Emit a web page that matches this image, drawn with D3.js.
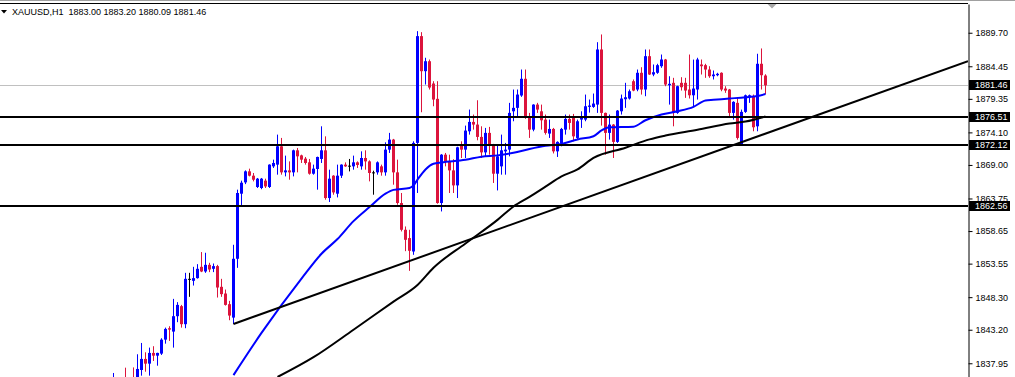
<!DOCTYPE html>
<html>
<head>
<meta charset="utf-8">
<script src="https://cdn.jsdelivr.net/npm/d3@7"></script>
<style>
  body { margin: 0; background: #fff; overflow: hidden; }
  text { font-family: "Liberation Sans", Arial, sans-serif; font-size: 9px; }
</style>
</head>
<body>
<div id="chart-area"></div>
<script>
const symbol = "XAUUSD,H1";

// hourly bars, oldest first (first few sit below the visible window)
const opens = [
  1833.50, 1834.00, 1833.00, 1835.50, 1834.20, 1835.60, 1835.00, 1836.90, 1838.63, 1837.89,
  1839.57, 1839.14, 1839.46, 1841.65, 1843.44, 1842.91, 1845.32, 1846.89, 1844.07, 1851.17,
  1850.86, 1851.28, 1853.05, 1852.32, 1853.36, 1852.74, 1853.16, 1849.92, 1848.87, 1847.20,
  1845.10, 1854.31, 1864.50, 1866.27, 1868.00, 1867.32, 1865.55, 1865.39, 1866.54, 1865.55,
  1868.78, 1869.05, 1871.92, 1867.84, 1868.15, 1867.84, 1871.29, 1870.50, 1869.99, 1869.41,
  1867.63, 1868.37, 1869.94, 1871.29, 1863.82, 1867.32, 1864.50, 1867.32, 1869.05, 1868.89,
  1868.78, 1869.41, 1868.78, 1870.09, 1869.56, 1867.84, 1867.84, 1868.78, 1867.84, 1871.40,
  1872.97, 1867.84, 1863.04, 1858.85, 1857.55, 1855.45, 1872.45, 1889.17, 1883.68, 1885.24,
  1881.75, 1879.35, 1863.04, 1870.61, 1869.56, 1868.15, 1865.80, 1872.18, 1871.40, 1874.27,
  1875.74, 1875.32, 1873.39, 1870.97, 1874.02, 1872.18, 1867.63, 1868.78, 1871.13, 1871.40,
  1877.40, 1877.94, 1879.87, 1882.49, 1876.62, 1874.53, 1878.45, 1877.40, 1876.10, 1873.91,
  1874.64, 1871.13, 1872.34, 1874.53, 1876.21, 1876.62, 1873.23, 1876.10, 1876.10, 1878.09,
  1878.09, 1878.45, 1887.08, 1877.15, 1874.02, 1875.32, 1872.61, 1877.40, 1879.29, 1879.40,
  1882.11, 1880.81, 1883.43, 1880.81, 1886.03, 1883.16, 1883.43, 1884.46, 1885.51, 1881.48,
  1881.86, 1877.15, 1881.86, 1881.86, 1880.81, 1879.91, 1880.81, 1884.73, 1884.62, 1883.94,
  1882.89, 1883.05, 1883.43, 1880.96, 1880.81, 1877.15, 1878.72, 1872.18, 1877.31, 1879.60,
  1879.76, 1875.05, 1884.84, 1883.00
];
const highs = [
  1836.43, 1835.30, 1835.20, 1837.26, 1835.50, 1837.30, 1839.36, 1841.13, 1839.67, 1840.40,
  1840.62, 1839.60, 1841.87, 1843.53, 1843.75, 1848.03, 1847.52, 1847.09, 1852.11, 1852.11,
  1853.05, 1853.47, 1855.36, 1855.25, 1853.68, 1853.57, 1853.36, 1851.17, 1849.49, 1847.72,
  1856.50, 1865.13, 1866.54, 1868.15, 1868.42, 1867.74, 1866.96, 1866.96, 1866.85, 1869.10,
  1869.83, 1873.75, 1873.23, 1870.46, 1869.56, 1871.40, 1871.66, 1870.61, 1870.25, 1869.94,
  1869.05, 1870.30, 1875.05, 1873.48, 1868.26, 1867.40, 1869.05, 1869.10, 1869.40, 1869.94,
  1870.46, 1869.56, 1871.13, 1871.29, 1869.72, 1868.10, 1869.56, 1869.05, 1872.54, 1874.02,
  1873.08, 1869.83, 1864.61, 1859.37, 1858.85, 1872.70, 1889.95, 1889.79, 1885.78, 1885.51,
  1882.11, 1882.11, 1870.70, 1870.88, 1870.61, 1869.90, 1871.85, 1872.70, 1875.16, 1877.67,
  1876.89, 1879.13, 1875.05, 1874.80, 1874.96, 1872.30, 1872.18, 1873.75, 1872.45, 1878.72,
  1880.81, 1880.81, 1883.94, 1883.94, 1877.15, 1878.50, 1878.72, 1878.45, 1876.89, 1876.10,
  1874.80, 1872.70, 1874.80, 1876.89, 1876.89, 1876.99, 1876.10, 1877.40, 1880.02, 1879.24,
  1880.18, 1888.22, 1889.43, 1877.20, 1876.89, 1875.40, 1877.60, 1880.02, 1881.86, 1880.81,
  1882.38, 1883.94, 1884.30, 1887.08, 1887.08, 1884.73, 1884.84, 1886.29, 1885.60, 1882.89,
  1882.64, 1881.40, 1882.74, 1882.64, 1886.29, 1885.50, 1885.78, 1885.51, 1884.84, 1884.46,
  1883.79, 1883.43, 1883.50, 1881.33, 1880.90, 1878.97, 1879.50, 1877.67, 1880.02, 1880.02,
  1880.02, 1886.41, 1887.24, 1883.20
];
const lows = [
  1832.80, 1832.50, 1832.00, 1833.50, 1833.00, 1833.80, 1834.00, 1836.01, 1836.63, 1836.01,
  1838.31, 1837.57, 1839.25, 1841.02, 1841.45, 1840.40, 1844.38, 1843.53, 1843.44, 1848.35,
  1850.12, 1851.20, 1852.22, 1852.11, 1852.22, 1852.22, 1848.24, 1848.35, 1846.98, 1844.69,
  1844.10, 1852.89, 1862.46, 1866.00, 1867.21, 1866.43, 1865.39, 1865.20, 1865.39, 1865.39,
  1868.53, 1867.48, 1867.48, 1867.21, 1866.69, 1867.21, 1867.84, 1869.31, 1869.05, 1867.48,
  1867.48, 1865.13, 1869.31, 1863.56, 1863.20, 1864.34, 1863.92, 1866.96, 1868.70, 1867.99,
  1868.26, 1868.53, 1868.26, 1868.26, 1866.43, 1864.34, 1867.48, 1867.32, 1867.32, 1870.88,
  1865.91, 1862.77, 1858.59, 1855.50, 1852.42, 1854.93, 1864.61, 1877.25, 1881.59, 1880.81,
  1878.19, 1862.93, 1861.72, 1868.78, 1864.61, 1864.61, 1863.82, 1870.09, 1870.09, 1873.75,
  1874.53, 1872.86, 1870.09, 1870.35, 1870.61, 1866.18, 1865.01, 1867.48, 1867.48, 1870.35,
  1875.84, 1876.62, 1879.66, 1876.21, 1873.23, 1874.27, 1877.15, 1874.53, 1873.75, 1873.23,
  1870.80, 1870.25, 1871.92, 1873.75, 1874.53, 1872.70, 1872.97, 1874.80, 1875.84, 1877.20,
  1877.94, 1877.15, 1875.16, 1870.61, 1872.97, 1870.09, 1872.45, 1876.89, 1877.94, 1879.24,
  1880.54, 1880.54, 1880.02, 1879.76, 1883.10, 1882.89, 1883.27, 1884.21, 1881.33, 1878.45,
  1875.05, 1877.00, 1880.65, 1879.50, 1879.40, 1878.20, 1879.24, 1883.16, 1882.64, 1882.64,
  1882.38, 1882.89, 1880.54, 1880.29, 1876.62, 1876.10, 1872.97, 1872.10, 1877.15, 1878.72,
  1874.27, 1874.27, 1880.81, 1880.09
];
const closes = [
  1835.00, 1833.00, 1834.50, 1834.20, 1835.00, 1834.50, 1837.06, 1838.63, 1837.89, 1839.57,
  1839.14, 1839.57, 1841.65, 1843.33, 1843.22, 1845.32, 1847.09, 1844.07, 1851.17, 1851.17,
  1851.28, 1852.74, 1852.32, 1853.36, 1852.63, 1853.16, 1849.81, 1848.77, 1847.09, 1845.42,
  1854.31, 1864.61, 1866.22, 1868.00, 1867.32, 1866.69, 1866.85, 1866.85, 1865.64, 1869.05,
  1869.31, 1871.92, 1867.84, 1868.15, 1867.84, 1871.29, 1870.35, 1869.83, 1869.31, 1867.63,
  1868.42, 1870.25, 1871.29, 1863.82, 1866.85, 1864.70, 1867.32, 1869.05, 1868.78, 1868.89,
  1869.41, 1869.00, 1870.09, 1869.56, 1867.74, 1867.84, 1869.41, 1867.84, 1871.40, 1872.97,
  1867.84, 1863.04, 1858.85, 1857.28, 1855.56, 1872.45, 1889.17, 1883.68, 1885.24, 1881.12,
  1879.24, 1863.04, 1870.61, 1869.56, 1868.15, 1865.80, 1871.76, 1871.40, 1874.38, 1875.74,
  1875.32, 1873.39, 1870.97, 1874.02, 1872.03, 1867.63, 1870.35, 1871.29, 1871.40, 1877.15,
  1877.94, 1880.02, 1882.49, 1876.62, 1874.53, 1878.45, 1877.67, 1875.99, 1874.02, 1874.64,
  1871.13, 1872.61, 1874.64, 1876.21, 1875.58, 1873.48, 1875.84, 1876.62, 1878.19, 1878.30,
  1878.61, 1887.08, 1877.15, 1874.02, 1875.32, 1872.61, 1877.51, 1879.40, 1879.60, 1880.54,
  1880.65, 1883.43, 1880.81, 1886.03, 1883.16, 1883.52, 1884.62, 1885.51, 1881.59, 1881.70,
  1877.15, 1881.33, 1881.17, 1880.65, 1879.91, 1880.96, 1885.51, 1884.46, 1883.94, 1882.89,
  1883.16, 1883.27, 1880.81, 1880.65, 1877.15, 1878.88, 1873.23, 1877.31, 1879.91, 1879.91,
  1874.90, 1884.84, 1883.05, 1881.46
];

const priceTicks = [1889.70, 1884.45, 1879.35, 1874.10, 1869.00, 1863.75, 1858.65, 1853.55, 1848.30, 1843.20, 1837.95];
const levels = [1876.51, 1872.12, 1862.56];
const bidPrice = 1881.46;

// moving averages at some bars
const maFastBars = [30, 37, 47, 52, 56, 60, 64, 68, 70, 74, 75, 76, 78, 80, 82, 88, 92, 96, 100, 104, 108, 112, 116, 120, 122, 124, 130, 133, 137, 141, 145, 148, 150, 154, 158, 161, 163];
const maFastValues = [1836.1, 1842.7, 1851.2, 1855.1, 1857.4, 1860.2, 1862.4, 1864.5, 1865.1, 1865.4, 1865.8, 1866.7, 1868.3, 1869.2, 1869.4, 1869.8, 1870.3, 1870.5, 1870.9, 1871.5, 1872.0, 1872.3, 1873.0, 1873.5, 1874.4, 1874.9, 1875.0, 1876.0, 1876.9, 1877.4, 1878.1, 1879.1, 1879.2, 1879.4, 1879.6, 1879.8, 1880.1];
const maSlowBars = [41, 50, 60, 70, 76, 80, 88, 96, 100, 104, 108, 112, 116, 120, 128, 134, 138, 146, 154, 158, 163];
const maSlowValues = [1835.8, 1838.9, 1843.2, 1847.6, 1850.2, 1852.9, 1856.7, 1860.4, 1862.5, 1864.0, 1865.6, 1867.2, 1868.3, 1870.1, 1871.7, 1873.0, 1873.6, 1874.5, 1875.5, 1875.8, 1876.6];

// trend line anchors (bar, price)
const trendBars = [30, 157];
const trendPrices = [1844.1, 1872.56];

const drawChart = () => {
  const chartSize = { width: 1015, height: 377 };
  const plot = { left: 0, right: 968, top: 4, bottom: 377 };

  const x = d3.scaleLinear().domain([0, opens.length - 1]).range([113.5, 765.5]);
  const y = d3.scaleLinear().domain([1835.8, 1894.2]).range([plot.bottom, plot.top]);

  const bull = "#0000ff";
  const bear = "#dc143c";

  const svg = d3.select("#chart-area")
    .append("svg")
    .attr("width", chartSize.width)
    .attr("height", chartSize.height)
    .style("display", "block");

  svg.append("rect").attr("width", chartSize.width).attr("height", chartSize.height).attr("fill", "#fff");

  svg.append("clipPath").attr("id", "plot-clip")
    .append("rect")
    .attr("x", plot.left).attr("y", plot.top)
    .attr("width", plot.right - plot.left).attr("height", plot.bottom - plot.top);

  const g = svg.append("g").attr("clip-path", "url(#plot-clip)");

  // bid line
  g.append("line")
    .attr("x1", plot.left).attr("x2", plot.right)
    .attr("y1", Math.round(y(bidPrice)) + 0.5).attr("y2", Math.round(y(bidPrice)) + 0.5)
    .attr("stroke", "#c0c0c0").attr("stroke-width", 1);

  const bars = d3.range(opens.length).map(i => ({
    i, o: opens[i], h: highs[i], l: lows[i], c: closes[i]
  }));
  const colorOf = b => (b.c > b.o ? bull : b.c < b.o ? bear : "#000");

  const candles = g.append("g").attr("class", "candles");
  candles.selectAll("line").data(bars).enter().append("line")
    .attr("x1", b => x(b.i)).attr("x2", b => x(b.i))
    .attr("y1", b => y(b.h)).attr("y2", b => y(b.l))
    .attr("stroke", colorOf).attr("stroke-width", 1);

  candles.selectAll("rect").data(bars).enter().append("rect")
    .attr("x", b => x(b.i) - 1.5)
    .attr("width", 3)
    .attr("y", b => y(Math.max(b.o, b.c)))
    .attr("height", b => Math.max(1, Math.abs(y(b.o) - y(b.c))))
    .attr("fill", colorOf);

  // moving averages
  const maLine = d3.line().x(d => x(d[0])).y(d => y(d[1])).curve(d3.curveMonotoneX);
  g.append("path")
    .datum(d3.zip(maSlowBars, maSlowValues))
    .attr("d", maLine).attr("fill", "none").attr("stroke", "#000").attr("stroke-width", 2);
  g.append("path")
    .datum(d3.zip(maFastBars, maFastValues))
    .attr("d", maLine).attr("fill", "none").attr("stroke", bull).attr("stroke-width", 2);

  // horizontal levels
  g.selectAll(".level").data(levels).enter().append("line")
    .attr("class", "level")
    .attr("x1", plot.left).attr("x2", plot.right)
    .attr("y1", d => y(d)).attr("y2", d => y(d))
    .attr("stroke", "#000").attr("stroke-width", 2);

  // trend line as a ray to the right edge
  const slope = (trendPrices[1] - trendPrices[0]) / (trendBars[1] - trendBars[0]);
  const endBar = x.invert(plot.right);
  g.append("line")
    .attr("x1", x(trendBars[0])).attr("y1", y(trendPrices[0]))
    .attr("x2", x(endBar)).attr("y2", y(trendPrices[0] + slope * (endBar - trendBars[0])))
    .attr("stroke", "#000").attr("stroke-width", 2);

  // frame
  svg.append("line").attr("x1", 0).attr("x2", chartSize.width).attr("y1", 0.5).attr("y2", 0.5)
    .attr("stroke", "#a0a0a0");
  svg.append("line").attr("x1", 0).attr("x2", plot.right).attr("y1", 3.5).attr("y2", 3.5)
    .attr("stroke", "#000");

  // price axis
  const yAxis = d3.axisRight(y)
    .tickValues(priceTicks)
    .tickFormat(d3.format(".2f"))
    .tickSize(4)
    .tickSizeOuter(0)
    .tickPadding(3);

  const axis = svg.append("g")
    .attr("transform", `translate(${plot.right + 0.5}, 0)`)
    .call(yAxis);
  axis.select(".domain").attr("stroke", "#000");
  axis.selectAll(".tick line").attr("stroke", "#000");
  axis.selectAll(".tick text").attr("fill", "#000").style("font-size", "9px");

  // price tags
  const tags = svg.selectAll(".tag").data([bidPrice, ...levels]).enter().append("g")
    .attr("class", "tag")
    .attr("transform", d => `translate(${plot.right + 1}, ${Math.round(y(d))})`);
  tags.append("rect").attr("x", 0).attr("y", -5).attr("width", 41).attr("height", 10).attr("fill", "#000");
  tags.append("text").attr("x", 6).attr("y", 0).attr("dy", "0.33em").attr("fill", "#fff")
    .text(d => d3.format(".2f")(d));

  // shift marker
  svg.append("path")
    .attr("d", "M767.5,4 L776.5,4 L772,8.5 Z")
    .attr("fill", "#a8a8a8");

  // title
  svg.append("path").attr("d", "M1,10 L7,10 L4,13.5 Z").attr("fill", "#000");
  const last = bars[bars.length - 1];
  svg.append("text")
    .attr("x", 12).attr("y", 15)
    .style("white-space", "pre")
    .attr("fill", "#000")
    .text(`${symbol}  ${[last.o, last.h, last.l, last.c].map(d3.format(".2f")).join(" ")}`);
};

window.onload = drawChart;
</script>
</body>
</html>
